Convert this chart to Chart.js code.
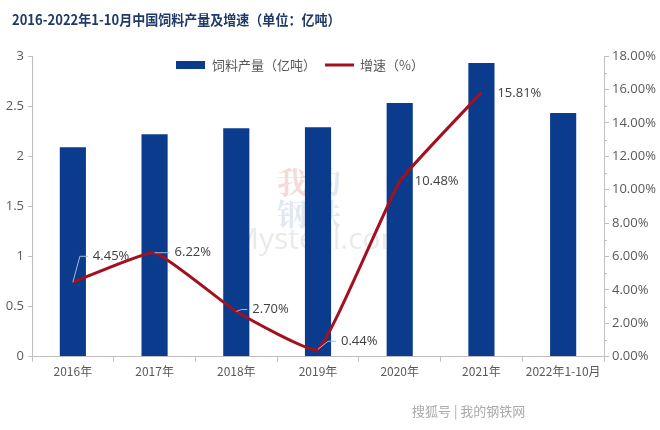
<!DOCTYPE html>
<html>
<head>
<meta charset="utf-8">
<script src="https://cdn.jsdelivr.net/npm/chart.js@4/dist/chart.umd.min.js"></script>
<style>
  html, body { margin: 0; padding: 0; background: #fff; }
  #wrap { width: 660px; height: 430px; }
</style>
</head>
<body>
<div id="wrap"><canvas id="chart" width="660" height="430"></canvas></div>
<script>
// data
const categories = ["2016年", "2017年", "2018年", "2019年", "2020年", "2021年", "2022年1-10月"];
const output = [2.09, 2.22, 2.28, 2.29, 2.53, 2.93, 2.43];        // 亿吨
const growth = [4.45, 6.22, 2.70, 0.44, 10.48, 15.81, null];       // %
const growthLabels = ["4.45%", "6.22%", "2.70%", "0.44%", "10.48%", "15.81%", null];

const BAR_COLOR = "#0b3b8c";
const LINE_COLOR = "#a3111f";
const TEXT_COLOR = "#595959";
const CJK = "'Noto Sans CJK SC', sans-serif";
const LATIN = "'Open Sans', 'Noto Sans', sans-serif";

// label placement relative to its point: bend of the leader line, then text start
const labelOffsets = [
    { bx: 7, dx: 20, dy: -26, leader: true },
    { bx: 0, dx: 20, dy: 0, leader: true },
    { bx: 5, dx: 16, dy: -2, leader: true },
    { bx: 10, dx: 23, dy: -8, leader: true },
    { bx: 0, dx: 15, dy: 0, leader: false },
    { bx: 0, dx: 16, dy: 1, leader: false },
];

// title, legend, watermark, footer and minor ticks
const decorPlugin = {
    id: "decor",
    beforeDatasetsDraw(chart) {
        const ctx = chart.ctx;
        ctx.save();
        // faint watermark
        ctx.globalAlpha = 0.18;
        ctx.font = "bold 30px 'Noto Serif CJK SC', " + CJK;
        ctx.textBaseline = "middle";
        ctx.fillStyle = "#c0392b";
        ctx.fillText("我", 277, 182);
        ctx.fillStyle = "#5a7fb0";
        ctx.fillText("的", 311, 182);
        ctx.fillText("钢", 277, 214);
        ctx.fillText("铁", 311, 214);
        ctx.fillStyle = "#888";
        ctx.font = "30px " + LATIN;
        ctx.fillText("Mysteel.com", 232, 240);
        ctx.restore();
    },
    afterDraw(chart) {
        const ctx = chart.ctx;
        const area = chart.chartArea;
        ctx.save();

        // title (slightly condensed)
        ctx.save();
        ctx.translate(12, 20);
        ctx.scale(0.93, 1);
        ctx.fillStyle = "#1f3a68";
        ctx.font = "bold 14px " + CJK;
        ctx.textBaseline = "middle";
        ctx.textAlign = "left";
        ctx.fillText("2016-2022年1-10月中国饲料产量及增速（单位：亿吨）", 0, 0);
        ctx.restore();

        ctx.textBaseline = "middle";
        ctx.textAlign = "left";

        // legend
        ctx.fillStyle = BAR_COLOR;
        ctx.fillRect(176, 61, 29, 8);
        ctx.fillStyle = TEXT_COLOR;
        ctx.font = "13px " + CJK;
        ctx.fillText("饲料产量（亿吨）", 212, 65);
        ctx.strokeStyle = LINE_COLOR;
        ctx.lineWidth = 3;
        ctx.beginPath();
        ctx.moveTo(325, 65);
        ctx.lineTo(354, 65);
        ctx.stroke();
        ctx.fillText("增速（%）", 360, 65);

        // minor ticks on the right axis
        const y1 = chart.scales.y1;
        ctx.strokeStyle = "#bfbfbf";
        ctx.lineWidth = 1;
        for (let v = 1; v < 18; v += 2) {
            const y = Math.round(y1.getPixelForValue(v)) + 0.5;
            ctx.beginPath();
            ctx.moveTo(area.right, y);
            ctx.lineTo(area.right + 3, y);
            ctx.stroke();
        }

        // growth labels with leader lines
        const meta = chart.getDatasetMeta(0);
        ctx.font = "13px " + LATIN;
        ctx.fillStyle = "#404040";
        meta.data.forEach((pt, i) => {
            if (growthLabels[i] == null) return;
            const off = labelOffsets[i];
            const lx = pt.x + off.dx;
            const ly = pt.y + off.dy;
            if (off.leader) {
                ctx.strokeStyle = "#a6b8d6";
                ctx.lineWidth = 1;
                ctx.beginPath();
                ctx.moveTo(pt.x, pt.y);
                ctx.lineTo(pt.x + off.bx, ly);
                ctx.lineTo(lx - 5, ly);
                ctx.stroke();
            }
            ctx.fillText(growthLabels[i], lx, ly);
        });

        // footer
        ctx.fillStyle = "#aaaaaa";
        ctx.font = "13px " + CJK;
        ctx.fillText("搜狐号 | 我的钢铁网", 412, 411);
        ctx.restore();
    }
};

new Chart(document.getElementById("chart"), {
    type: "bar",
    data: {
        labels: categories,
        datasets: [
            {
                type: "line",
                label: "增速（%）",
                data: growth,
                yAxisID: "y1",
                borderColor: LINE_COLOR,
                borderWidth: 3,
                pointRadius: 0,
                tension: 0.12,
                spanGaps: false,
                order: 0,
            },
            {
                type: "bar",
                label: "饲料产量（亿吨）",
                data: output,
                yAxisID: "y",
                backgroundColor: BAR_COLOR,
                barPercentage: 0.32,
                categoryPercentage: 1.0,
                order: 1,
            },
        ],
    },
    options: {
        responsive: false,
        animation: false,
        layout: { padding: { left: 0, right: 0, top: 56, bottom: 48 } },
        plugins: {
            legend: { display: false },
            tooltip: { enabled: false },
        },
        scales: {
            x: {
                offset: true,
                grid: { drawOnChartArea: false, offset: true, tickLength: 5, color: "#bfbfbf" },
                border: { color: "#bfbfbf" },
                ticks: {
                    color: TEXT_COLOR, font: { family: CJK, size: 12 }, padding: 3,
                    maxRotation: 0, autoSkip: false,
                },
            },
            y: {
                position: "left",
                min: 0, max: 3,
                afterFit(scale) { scale.width = 32; },
                grid: { drawOnChartArea: false, tickLength: 4, color: "#bfbfbf" },
                border: { color: "#bfbfbf" },
                ticks: {
                    stepSize: 0.5, color: TEXT_COLOR, font: { family: LATIN, size: 13 }, padding: 4,
                    callback: v => String(v),
                },
            },
            y1: {
                position: "right",
                min: 0, max: 18,
                afterFit(scale) { scale.width = 56; },
                grid: { drawOnChartArea: false, tickLength: 5, color: "#bfbfbf" },
                border: { color: "#bfbfbf" },
                ticks: {
                    stepSize: 2, color: TEXT_COLOR, font: { family: LATIN, size: 13 }, padding: 3,
                    callback: v => v.toFixed(2) + "%",
                },
            },
        },
    },
    plugins: [decorPlugin],
});
</script>
</body>
</html>
